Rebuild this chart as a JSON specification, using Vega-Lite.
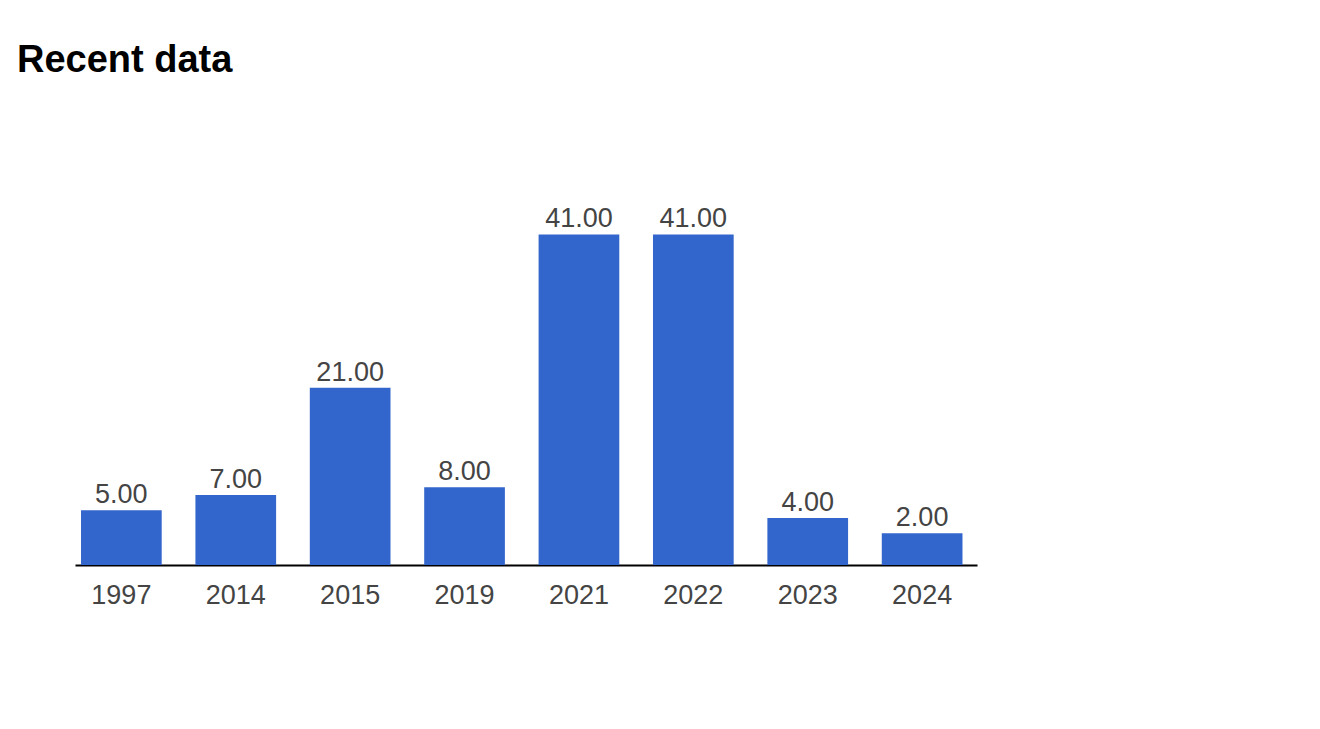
{
  "$schema": "https://vega.github.io/schema/vega-lite/v6.json",
  "autosize": {"type": "none"},
  "width": 902,
  "height": 360,
  "padding": {"left": 75, "top": 205, "right": 343, "bottom": 164},
  "background": "white",
  "title": {
    "text": "Recent data",
    "anchor": "start",
    "font": "Liberation Sans",
    "fontSize": 38,
    "fontWeight": "bold",
    "color": "#000000",
    "baseline": "alphabetic",
    "dx": -58,
    "offset": 95
  },
  "data": {
    "values": [
      {"year": "1997", "value": 5},
      {"year": "2014", "value": 7},
      {"year": "2015", "value": 21},
      {"year": "2019", "value": 8},
      {"year": "2021", "value": 41},
      {"year": "2022", "value": 41},
      {"year": "2023", "value": 4},
      {"year": "2024", "value": 2}
    ]
  },
  "encoding": {
    "x": {
      "field": "year",
      "type": "nominal",
      "sort": null,
      "scale": {"paddingInner": 0.2946, "paddingOuter": 0.0898, "align": 0.293},
      "axis": {
        "title": null,
        "labelAngle": 0,
        "ticks": false,
        "tickSize": 0,
        "labelPadding": 38,
        "labelBaseline": "alphabetic",
        "labelFont": "Liberation Sans",
        "labelFontSize": 27,
        "labelColor": "#444444",
        "domainColor": "#000000",
        "domainWidth": 2,
        "grid": false
      }
    },
    "y": {
      "field": "value",
      "type": "quantitative",
      "scale": {"domain": [-2.15, 44.85], "zero": false, "nice": false},
      "axis": null
    }
  },
  "layer": [
    {
      "mark": {"type": "bar", "color": "#3366CC"},
      "encoding": {"y2": {"datum": -2.15}}
    },
    {
      "mark": {
        "type": "text",
        "baseline": "alphabetic",
        "dy": -7,
        "font": "Liberation Sans",
        "fontSize": 27,
        "color": "#444444"
      },
      "encoding": {"text": {"field": "value", "type": "quantitative", "format": ".2f"}}
    }
  ],
  "config": {"view": {"stroke": null}}
}
